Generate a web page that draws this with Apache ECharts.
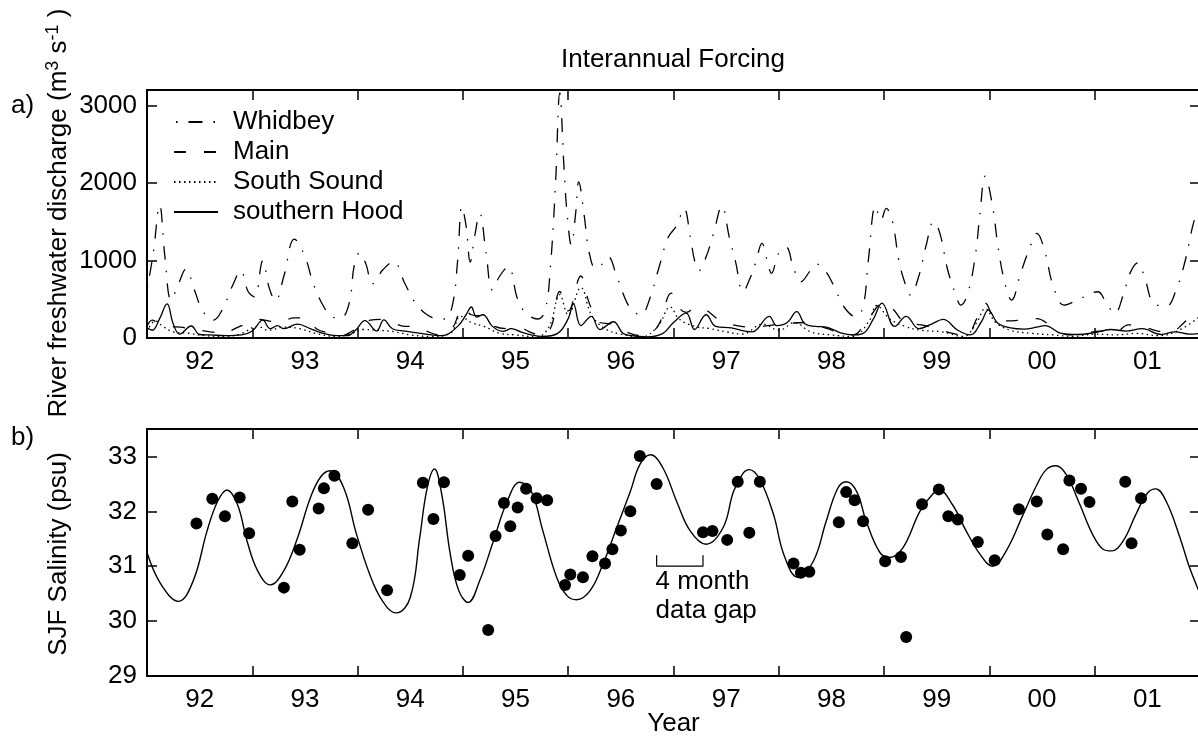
<!DOCTYPE html>
<html>
<head>
<meta charset="utf-8">
<script src="https://cdn.jsdelivr.net/npm/echarts@6/dist/echarts.min.js"></script>
<style>
  html, body { margin: 0; padding: 0; background: #fff; }
  #chart { width: 1198px; height: 745px; }
</style>
</head>
<body>
<div id="chart"></div>
<script>
// Year labels centred under each year band
const yearLabels = ['92', '93', '94', '95', '96', '97', '98', '99', '00', '01'];

// River freshwater discharge, m^3 s^-1 : [decimal year, discharge]
const whidbey = [
  [1992.00, 620], [1992.06, 1100], [1992.12, 1714], [1992.17, 1050], [1992.23, 490], [1992.30, 700],
  [1992.37, 890], [1992.45, 620], [1992.53, 350], [1992.63, 230], [1992.72, 380], [1992.82, 700],
  [1992.89, 868], [1992.96, 600], [1993.02, 530], [1993.10, 1000], [1993.16, 650], [1993.22, 480],
  [1993.30, 800], [1993.40, 1276], [1993.50, 1050], [1993.58, 700], [1993.68, 400], [1993.76, 270],
  [1993.84, 258], [1993.92, 450], [1993.97, 950], [1994.02, 1100], [1994.08, 950], [1994.14, 700],
  [1994.24, 880], [1994.34, 985], [1994.45, 700], [1994.55, 450], [1994.66, 300], [1994.76, 250],
  [1994.83, 245], [1994.90, 420], [1994.95, 1000], [1994.99, 1693], [1995.03, 1450], [1995.07, 980],
  [1995.11, 1300], [1995.16, 1607], [1995.22, 1100], [1995.28, 620], [1995.35, 800], [1995.43, 919],
  [1995.52, 500], [1995.60, 320], [1995.71, 245], [1995.78, 350], [1995.83, 900], [1995.88, 2000],
  [1995.92, 3162], [1995.96, 2200], [1995.99, 1600], [1996.03, 1199], [1996.07, 1600], [1996.10, 2015],
  [1996.15, 1600], [1996.20, 1100], [1996.26, 900], [1996.32, 950], [1996.38, 1048], [1996.46, 800],
  [1996.56, 450], [1996.63, 330], [1996.69, 300], [1996.78, 530], [1996.86, 900], [1996.95, 1300],
  [1997.03, 1450], [1997.10, 1672], [1997.16, 1300], [1997.20, 1000], [1997.24, 868], [1997.31, 1048],
  [1997.38, 1350], [1997.46, 1701], [1997.53, 1300], [1997.59, 980], [1997.66, 597], [1997.73, 780],
  [1997.78, 970], [1997.84, 1220], [1997.89, 1000], [1997.93, 834], [1998.00, 1100], [1998.07, 1170],
  [1998.14, 900], [1998.21, 726], [1998.30, 870], [1998.36, 954], [1998.45, 850], [1998.53, 650],
  [1998.62, 400], [1998.73, 275], [1998.80, 400], [1998.85, 1000], [1998.92, 1701], [1998.97, 1521],
  [1999.02, 1672], [1999.08, 1500], [1999.14, 1000], [1999.20, 700], [1999.25, 555], [1999.33, 800],
  [1999.40, 1200], [1999.47, 1500], [1999.53, 1350], [1999.60, 900], [1999.67, 600], [1999.73, 425],
  [1999.80, 600], [1999.87, 1100], [1999.91, 1600], [1999.96, 2088], [2000.03, 1700], [2000.08, 1200],
  [2000.14, 750], [2000.21, 490], [2000.30, 850], [2000.38, 1150], [2000.45, 1350], [2000.53, 1100],
  [2000.60, 700], [2000.71, 425], [2000.85, 500], [2001.03, 597], [2001.10, 480], [2001.19, 318],
  [2001.27, 550], [2001.34, 850], [2001.41, 970], [2001.48, 750], [2001.56, 450], [2001.68, 412],
  [2001.78, 650], [2001.86, 1000], [2001.95, 1543], [2002.00, 1650]
];

const mainBasin = [
  [1992.00, 150], [1992.05, 230], [1992.10, 200], [1992.20, 150], [1992.32, 140], [1992.45, 110],
  [1992.60, 80], [1992.72, 60], [1992.85, 130], [1992.95, 190], [1993.05, 240], [1993.12, 230],
  [1993.25, 200], [1993.40, 260], [1993.50, 250], [1993.62, 110], [1993.75, 60], [1993.85, 30],
  [1993.95, 90], [1994.03, 160], [1994.12, 230], [1994.22, 240], [1994.30, 220], [1994.45, 150],
  [1994.55, 150], [1994.65, 90], [1994.78, 40], [1994.90, 130], [1995.00, 390], [1995.08, 300],
  [1995.18, 280], [1995.30, 150], [1995.45, 120], [1995.55, 120], [1995.65, 70], [1995.75, 30],
  [1995.84, 150], [1995.92, 600], [1996.00, 350], [1996.12, 800], [1996.20, 450], [1996.30, 200],
  [1996.42, 180], [1996.55, 80], [1996.70, 30], [1996.85, 150], [1996.98, 580], [1997.06, 380],
  [1997.12, 330], [1997.22, 400], [1997.30, 370], [1997.45, 220], [1997.60, 160], [1997.75, 140],
  [1997.95, 170], [1998.10, 190], [1998.25, 200], [1998.40, 150], [1998.55, 80], [1998.70, 40],
  [1998.85, 250], [1999.00, 460], [1999.08, 380], [1999.20, 200], [1999.35, 170], [1999.50, 120],
  [1999.65, 60], [1999.78, 30], [1999.88, 250], [1999.96, 450], [2000.05, 250], [2000.15, 220],
  [2000.30, 230], [2000.45, 250], [2000.60, 140], [2000.75, 40], [2000.90, 60], [2001.05, 90],
  [2001.20, 80], [2001.32, 170], [2001.45, 150], [2001.60, 90], [2001.72, 80], [2001.85, 200],
  [2002.00, 400]
];

const southSound = [
  [1992.00, 80], [1992.08, 220], [1992.15, 150], [1992.25, 80], [1992.40, 60], [1992.55, 30],
  [1992.75, 20], [1992.90, 60], [1993.05, 150], [1993.15, 100], [1993.30, 140], [1993.45, 120],
  [1993.60, 60], [1993.80, 20], [1993.95, 60], [1994.05, 110], [1994.20, 100], [1994.35, 80],
  [1994.50, 40], [1994.70, 20], [1994.88, 60], [1994.98, 280], [1995.08, 200], [1995.20, 150],
  [1995.35, 60], [1995.50, 40], [1995.70, 15], [1995.82, 150], [1995.92, 560], [1996.00, 300],
  [1996.12, 650], [1996.22, 300], [1996.35, 120], [1996.50, 50], [1996.70, 15], [1996.85, 150],
  [1996.97, 400], [1997.05, 250], [1997.20, 150], [1997.35, 120], [1997.50, 80], [1997.65, 50],
  [1997.85, 180], [1998.00, 100], [1998.15, 200], [1998.30, 80], [1998.50, 40], [1998.70, 20],
  [1998.85, 200], [1998.93, 420], [1999.05, 250], [1999.20, 150], [1999.35, 100], [1999.55, 80],
  [1999.75, 20], [1999.88, 200], [1999.96, 380], [2000.06, 200], [2000.20, 100], [2000.40, 60],
  [2000.60, 40], [2000.80, 20], [2001.00, 50], [2001.20, 40], [2001.40, 60], [2001.60, 30],
  [2001.80, 100], [2002.00, 280]
];

const southernHood = [
  [1992.00, 130], [1992.05, 100], [1992.12, 250], [1992.19, 440], [1992.25, 180], [1992.31, 50],
  [1992.42, 155], [1992.50, 45], [1992.60, 40], [1992.75, 30], [1992.90, 40], [1993.00, 90],
  [1993.10, 230], [1993.17, 120], [1993.24, 160], [1993.30, 120], [1993.43, 180], [1993.55, 120],
  [1993.65, 70], [1993.80, 30], [1993.90, 30], [1993.98, 100], [1994.07, 225], [1994.18, 90],
  [1994.25, 235], [1994.33, 120], [1994.45, 90], [1994.60, 60], [1994.80, 30], [1994.95, 150],
  [1995.03, 300], [1995.08, 400], [1995.13, 270], [1995.19, 300], [1995.28, 150], [1995.38, 85],
  [1995.46, 120], [1995.55, 80], [1995.65, 40], [1995.75, 20], [1995.90, 60], [1996.00, 250],
  [1996.05, 440], [1996.12, 160], [1996.22, 280], [1996.30, 110], [1996.43, 210], [1996.52, 60],
  [1996.60, 30], [1996.75, 15], [1996.90, 60], [1997.00, 200], [1997.12, 320], [1997.20, 110],
  [1997.31, 300], [1997.40, 150], [1997.55, 130], [1997.68, 90], [1997.75, 80], [1997.91, 280],
  [1997.98, 160], [1998.08, 200], [1998.17, 340], [1998.25, 180], [1998.35, 150], [1998.45, 140],
  [1998.58, 70], [1998.70, 40], [1998.80, 60], [1998.90, 250], [1998.98, 450], [1999.10, 150],
  [1999.21, 280], [1999.33, 120], [1999.45, 180], [1999.56, 240], [1999.70, 100], [1999.82, 40],
  [1999.92, 200], [1999.99, 360], [2000.08, 190], [2000.20, 130], [2000.33, 115], [2000.45, 140],
  [2000.53, 160], [2000.68, 60], [2000.84, 45], [2001.00, 70], [2001.15, 110], [2001.30, 90],
  [2001.45, 120], [2001.63, 45], [2001.76, 80], [2001.90, 50], [2002.00, 60]
];

// Modelled Strait of Juan de Fuca salinity, psu
const salinityModel = [
  [1992.00, 31.25], [1992.13, 30.68], [1992.30, 30.36], [1992.44, 30.74], [1992.57, 31.64], [1992.67, 32.18],
  [1992.76, 32.39], [1992.86, 32.12], [1992.95, 31.46], [1993.05, 30.92], [1993.17, 30.66], [1993.30, 30.92],
  [1993.43, 31.52], [1993.55, 32.24], [1993.65, 32.63], [1993.74, 32.74], [1993.87, 32.42], [1993.99, 31.58],
  [1994.15, 30.68], [1994.28, 30.25], [1994.37, 30.15], [1994.50, 30.43], [1994.59, 31.52], [1994.66, 32.42],
  [1994.73, 32.77], [1994.80, 32.30], [1994.88, 31.22], [1994.96, 30.56], [1995.05, 30.34], [1995.16, 30.74],
  [1995.29, 31.46], [1995.42, 32.18], [1995.54, 32.53], [1995.65, 32.36], [1995.76, 31.64], [1995.89, 30.80],
  [1995.99, 30.46], [1996.08, 30.39], [1996.21, 30.56], [1996.33, 31.04], [1996.46, 31.70], [1996.59, 32.36],
  [1996.68, 32.85], [1996.78, 33.03], [1996.90, 32.79], [1997.03, 32.18], [1997.16, 31.64], [1997.31, 31.40],
  [1997.47, 31.70], [1997.57, 32.36], [1997.66, 32.69], [1997.72, 32.76], [1997.82, 32.58], [1997.95, 31.94],
  [1998.05, 31.20], [1998.18, 30.80], [1998.33, 31.10], [1998.45, 31.82], [1998.56, 32.42], [1998.64, 32.54],
  [1998.74, 32.36], [1998.83, 31.82], [1998.96, 31.25], [1999.05, 31.16], [1999.18, 31.34], [1999.34, 32.00],
  [1999.47, 32.33], [1999.52, 32.39], [1999.65, 32.12], [1999.78, 31.64], [1999.91, 31.22], [2000.03, 31.00],
  [2000.16, 31.28], [2000.32, 31.94], [2000.45, 32.48], [2000.54, 32.76], [2000.63, 32.83], [2000.73, 32.67],
  [2000.86, 32.12], [2000.98, 31.58], [2001.08, 31.31], [2001.16, 31.28], [2001.27, 31.46], [2001.39, 31.94],
  [2001.50, 32.33], [2001.58, 32.41], [2001.68, 32.18], [2001.81, 31.52], [2001.90, 30.98], [2002.00, 30.50]
];

// Observed SJF salinity, psu
const salinityObs = [
  [1992.47, 31.78], [1992.62, 32.23], [1992.74, 31.91], [1992.88, 32.25], [1992.97, 31.60], [1993.30, 30.61],
  [1993.38, 32.18], [1993.45, 31.30], [1993.63, 32.05], [1993.68, 32.42], [1993.78, 32.65], [1993.95, 31.42],
  [1994.10, 32.03], [1994.28, 30.56], [1994.62, 32.52], [1994.72, 31.86], [1994.82, 32.53], [1994.97, 30.84],
  [1995.05, 31.19], [1995.24, 29.84], [1995.31, 31.55], [1995.39, 32.15], [1995.45, 31.73], [1995.52, 32.07],
  [1995.60, 32.41], [1995.70, 32.24], [1995.80, 32.20], [1995.97, 30.66], [1996.02, 30.85], [1996.14, 30.80],
  [1996.23, 31.18], [1996.35, 31.05], [1996.42, 31.31], [1996.50, 31.65], [1996.59, 32.00], [1996.68, 33.01],
  [1996.84, 32.50], [1997.28, 31.62], [1997.37, 31.64], [1997.51, 31.48], [1997.61, 32.54], [1997.72, 31.61],
  [1997.82, 32.54], [1998.14, 31.05], [1998.21, 30.88], [1998.29, 30.90], [1998.57, 31.80], [1998.64, 32.35],
  [1998.72, 32.20], [1998.80, 31.82], [1999.01, 31.09], [1999.16, 31.17], [1999.21, 29.71], [1999.36, 32.13],
  [1999.52, 32.40], [1999.61, 31.91], [1999.70, 31.85], [1999.89, 31.44], [2000.05, 31.11], [2000.28, 32.04],
  [2000.45, 32.18], [2000.55, 31.58], [2000.70, 31.31], [2000.76, 32.56], [2000.87, 32.41], [2000.95, 32.17],
  [2001.29, 32.54], [2001.35, 31.42], [2001.44, 32.24]
];

// Bracket spanning the sampling gap, and where its caption sits
const gapStart = 1996.84, gapEnd = 1997.28;
const gapLevel = 31.0, gapCap = 31.2;
const gapCaptionAt = [1996.83, 30.46];

const FONT = "'Liberation Sans', Arial, Helvetica, sans-serif";
const BLACK = '#000';
const FS = 26;
const CLEAR = 'rgba(0,0,0,0)';

const tickStyle = { inside: true, length: 10, lineStyle: { color: BLACK, width: 1.5 } };

function yearTickAxis(gridIndex, position) {
  return {
    gridIndex, type: 'value', position, min: 1992, max: 2002, interval: 1,
    axisLine: { show: false, onZero: false }, axisTick: tickStyle,
    axisLabel: { show: false }, splitLine: { show: false }
  };
}
function yearLabelAxis(gridIndex, extra) {
  return Object.assign({
    gridIndex, type: 'category', position: 'bottom', data: yearLabels, boundaryGap: true,
    axisLine: { show: false, onZero: false }, axisTick: { show: false }, splitLine: { show: false },
    axisLabel: { interval: 0, margin: 11, fontSize: FS, color: BLACK, fontFamily: FONT }
  }, extra || {});
}
function valueAxis(gridIndex, position, min, max, interval, labelled) {
  return {
    gridIndex, type: 'value', position, min, max, interval,
    axisLine: { show: false, onZero: false }, axisTick: tickStyle, splitLine: { show: false },
    axisLabel: labelled ? {
      margin: 10, fontSize: FS, color: BLACK, fontFamily: FONT,
      formatter: v => (Math.abs(v / interval - Math.round(v / interval)) < 1e-6 ? String(v) : '')
    } : { show: false }
  };
}

function curve(name, data, dash, dashOffset) {
  return {
    name, type: 'line', xAxisIndex: 0, yAxisIndex: 0, data, smooth: 0.4,
    symbol: 'none', showSymbol: false, silent: true, z: 3,
    itemStyle: { color: CLEAR, borderWidth: 0 },
    lineStyle: { color: BLACK, width: 1.3, type: dash, dashOffset: dashOffset || 0 }
  };
}

// Vertical axis titles, read bottom to top beside each panel
const titleRich = {
  t: { fontSize: FS, lineHeight: 30, fill: BLACK, fontFamily: FONT },
  s: { fontSize: 18, lineHeight: 17, verticalAlign: 'top', fill: BLACK, fontFamily: FONT }
};
function sideTitle(text, centreY) {
  return {
    type: 'text', x: 59, y: centreY, rotation: Math.PI / 2,
    style: { text, rich: titleRich, fontFamily: FONT, fill: BLACK, align: 'center', verticalAlign: 'middle' }
  };
}

const chart = echarts.init(document.getElementById('chart'), null, { renderer: 'canvas' });

chart.setOption({
  backgroundColor: '#fff',
  animation: false,
  textStyle: { fontFamily: FONT, color: BLACK },
  grid: [
    { left: 147, top: 90, width: 1053, height: 248, show: true, borderColor: BLACK, borderWidth: 2,
      backgroundColor: 'transparent', containLabel: false, outerBoundsMode: 'none' },
    { left: 147, top: 429, width: 1053, height: 247, show: true, borderColor: BLACK, borderWidth: 2,
      backgroundColor: 'transparent', containLabel: false, outerBoundsMode: 'none' }
  ],
  xAxis: [
    yearTickAxis(0, 'bottom'),
    yearTickAxis(0, 'top'),
    yearLabelAxis(0),
    yearTickAxis(1, 'bottom'),
    yearTickAxis(1, 'top'),
    yearLabelAxis(1, {
      name: 'Year', nameLocation: 'middle', nameGap: 33, nameMoveOverlap: false,
      nameTextStyle: { fontSize: FS, color: BLACK, fontFamily: FONT, lineHeight: 30 }
    })
  ],
  yAxis: [
    valueAxis(0, 'left', 0, 3200, 1000, true),
    valueAxis(0, 'right', 0, 3200, 1000, false),
    valueAxis(1, 'left', 29, 33.5, 1, true),
    valueAxis(1, 'right', 29, 33.5, 1, false)
  ],
  legend: {
    data: ['Whidbey', 'Main', 'South Sound', 'southern Hood'],
    orient: 'vertical', left: 173, top: 107, padding: 0,
    itemWidth: 44, itemHeight: 14, itemGap: 0, selectedMode: false,
    itemStyle: { color: CLEAR, borderWidth: 0 },
    textStyle: { fontSize: FS, lineHeight: 30, color: BLACK, fontFamily: FONT, padding: [0, 0, 0, 10] }
  },
  graphic: [
    { type: 'text', x: 673, y: 60, style: { text: 'Interannual Forcing',
      fontSize: FS, fontFamily: FONT, fill: BLACK, align: 'center', verticalAlign: 'middle' } },
    { type: 'text', x: 11, y: 106, style: { text: 'a)', fontSize: FS, fontFamily: FONT, fill: BLACK,
      align: 'left', verticalAlign: 'middle' } },
    { type: 'text', x: 11, y: 438, style: { text: 'b)', fontSize: FS, fontFamily: FONT, fill: BLACK,
      align: 'left', verticalAlign: 'middle' } },
    sideTitle('{t|River freshwater discharge (m}{s|3}{t| s}{s|-1}{t| )}', 213),
    sideTitle('{t|SJF Salinity (psu)}', 554)
  ],
  series: [
    curve('Whidbey', whidbey, [14, 11, 1.5, 11], 23),
    curve('Main', mainBasin, [12, 18]),
    curve('South Sound', southSound, [1.5, 3.5]),
    curve('southern Hood', southernHood, 'solid'),
    {
      name: 'model salinity', type: 'line', xAxisIndex: 3, yAxisIndex: 2, data: salinityModel,
      smooth: 0.4, symbol: 'none', silent: true, z: 3,
      lineStyle: { color: BLACK, width: 1.4 }
    },
    {
      name: 'observed salinity', type: 'scatter', xAxisIndex: 3, yAxisIndex: 2, data: salinityObs,
      symbol: 'circle', symbolSize: 12, silent: true, z: 4,
      itemStyle: { color: BLACK, borderWidth: 0, opacity: 1 }
    },
    {
      name: 'gap bracket', type: 'line', xAxisIndex: 3, yAxisIndex: 2, silent: true, z: 4,
      data: [[gapStart, gapCap], [gapStart, gapLevel], [gapEnd, gapLevel], [gapEnd, gapCap]],
      symbol: 'none', lineStyle: { color: BLACK, width: 1.2 }
    },
    {
      name: 'gap caption', type: 'scatter', xAxisIndex: 3, yAxisIndex: 2, silent: true, z: 4,
      data: [gapCaptionAt], symbolSize: 1, itemStyle: { color: CLEAR, opacity: 1 },
      label: {
        show: true, position: 'inside', formatter: '4 month\ndata gap', align: 'left', opacity: 1,
        verticalAlign: 'middle', fontSize: FS, lineHeight: 29, color: BLACK, fontFamily: FONT
      }
    }
  ]
});
</script>
</body>
</html>
